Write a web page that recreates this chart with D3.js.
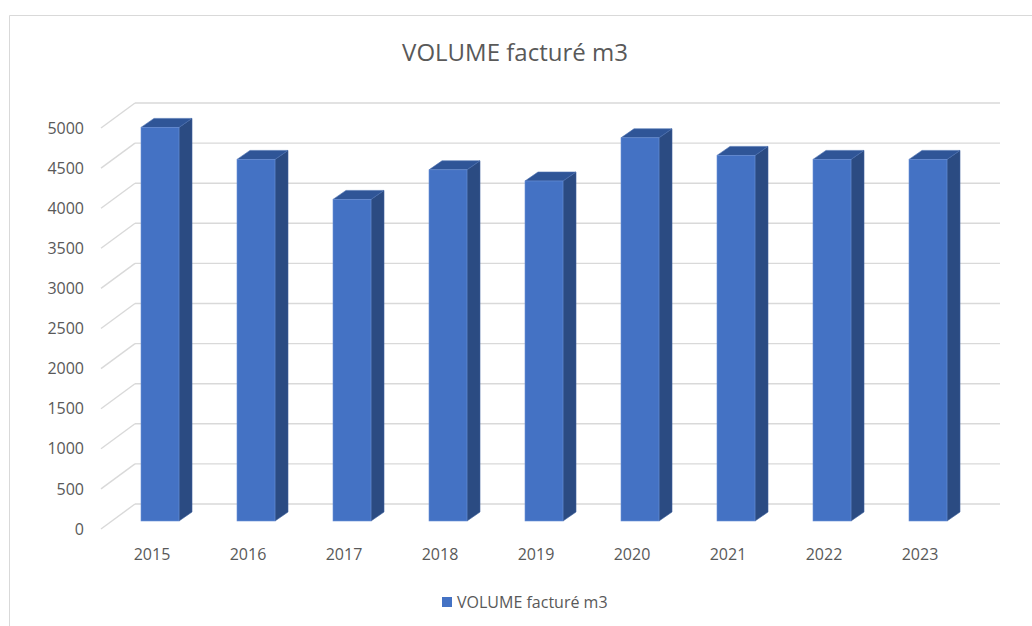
<!DOCTYPE html>
<html>
<head>
<meta charset="utf-8">
<script src="https://cdn.jsdelivr.net/npm/d3@7/dist/d3.min.js"></script>
<style>
  html, body { margin: 0; padding: 0; background: #fff; }
  svg { display: block; }
  text { font-family: "Open Sans", "Noto Sans", sans-serif; fill: #595959; }
</style>
</head>
<body>
<svg id="chart" width="1032" height="626"></svg>
<script>
// Billed volume per year (m3)
const years = ["2015", "2016", "2017", "2018", "2019", "2020", "2021", "2022", "2023"];
const volumes = [4920, 4520, 4020, 4390, 4250, 4790, 4570, 4520, 4520];
const yTicks = [0, 500, 1000, 1500, 2000, 2500, 3000, 3500, 4000, 4500, 5000];
const seriesName = "VOLUME facturé m3";

const svg = d3.select("#chart");

// Chart frame (only the top and left edges fall inside the view)
svg.append("path")
  .attr("d", "M9.5,626 L9.5,15.5 L1032,15.5")
  .attr("fill", "none")
  .attr("stroke", "#d9d9d9")
  .attr("stroke-width", 1);

// Oblique projection: back wall scale and the offset to the front edge of the floor
const yBack = d3.scaleLinear().domain([0, 5000]).range([504, 103]);
const wallLeft = 135, wallRight = 1000;
const frontDx = -34, frontDy = 25;

// Bars sit between the front and the back of the floor
const yBar = d3.scaleLinear().domain([0, 5000]).range([521, 121]);
const x = d3.scaleBand().domain(years).range([112, 976]).padding(0);
const barW = 38, depthDx = 13, depthDy = -9;

// Gridlines: back wall horizontal + diagonal on the left side wall
const grid = svg.append("g").attr("stroke", "#d9d9d9").attr("stroke-width", 1.4).attr("fill", "none");
yTicks.forEach(v => {
  const yb = yBack(v);
  grid.append("line").attr("x1", wallLeft).attr("x2", wallRight).attr("y1", yb).attr("y2", yb);
  grid.append("line").attr("x1", wallLeft + frontDx).attr("y1", yb + frontDy)
    .attr("x2", wallLeft).attr("y2", yb);
});

// Value axis labels along the front edge
svg.append("g").selectAll("text").data(yTicks).join("text")
  .attr("x", 84)
  .attr("y", d => yBack(d) + frontDy)
  .attr("dy", "0.35em")
  .attr("text-anchor", "end")
  .attr("font-size", 16)
  .text(d => d);

// 3D bars
const bars = svg.append("g").selectAll("g").data(years.map((y, i) => ({ year: y, value: volumes[i] }))).join("g");
bars.each(function(d) {
  const g = d3.select(this);
  const cx = x(d.year) + x.bandwidth() / 2;
  const x0 = cx - barW / 2, x1 = cx + barW / 2;
  const yt = yBar(d.value), yb = yBar(0);
  // side face
  g.append("path")
    .attr("d", `M${x1},${yt} L${x1 + depthDx},${yt + depthDy} L${x1 + depthDx},${yb + depthDy} L${x1},${yb} Z`)
    .attr("fill", "#2b4b82").attr("stroke", "#3d5f9c").attr("stroke-width", 0.6);
  // top face
  g.append("path")
    .attr("d", `M${x0},${yt} L${x0 + depthDx},${yt + depthDy} L${x1 + depthDx},${yt + depthDy} L${x1},${yt} Z`)
    .attr("fill", "#2f5597").attr("stroke", "#4a6fb0").attr("stroke-width", 0.6);
  // front face
  g.append("rect")
    .attr("x", x0).attr("y", yt).attr("width", barW).attr("height", yb - yt)
    .attr("fill", "#4472c4").attr("stroke", "#6a8fd6").attr("stroke-width", 0.6);
});

// Category labels
svg.append("g").selectAll("text").data(years).join("text")
  .attr("x", d => x(d) + x.bandwidth() / 2 - 8)
  .attr("y", 554)
  .attr("dy", "0.35em")
  .attr("text-anchor", "middle")
  .attr("font-size", 16)
  .text(d => d);

// Title
svg.append("text")
  .attr("x", 515).attr("y", 53)
  .attr("dy", "0.35em")
  .attr("text-anchor", "middle")
  .attr("font-size", 24)
  .text(seriesName);

// Legend
const legend = svg.append("g");
legend.append("rect").attr("x", 442).attr("y", 597).attr("width", 10).attr("height", 10).attr("fill", "#4472c4");
legend.append("text").attr("x", 457).attr("y", 602).attr("dy", "0.35em")
  .attr("font-size", 16).text(seriesName);
</script>
</body>
</html>
